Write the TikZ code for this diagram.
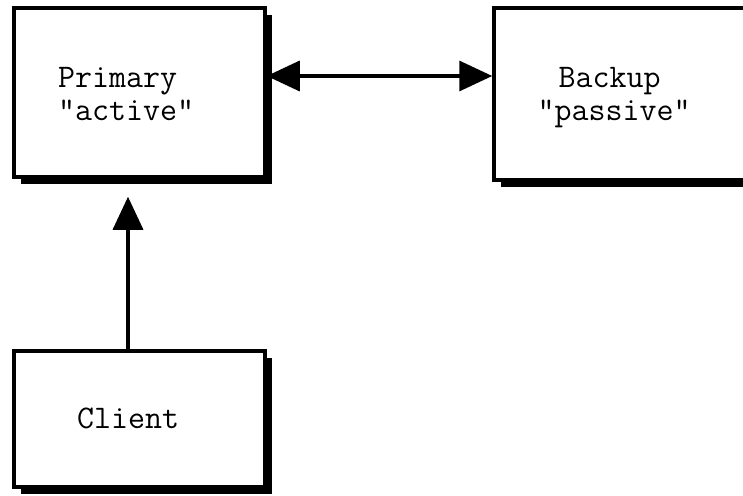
\documentclass[tikz,border=0pt]{standalone}
\usetikzlibrary{arrows.meta,shadows}
\begin{document}
\begin{tikzpicture}[x=1pt,y=-1pt,
  box/.style={draw=black, fill=white, line width=3.5pt, rectangle, inner sep=0pt,
    general shadow={shadow xshift=7pt, shadow yshift=-7pt, fill=black}},
  lbl/.style={anchor=base west, inner sep=0pt, font=\ttfamily\fontsize{33}{37}\selectfont},
  conn/.style={line width=3.5pt, draw=black}
]
\useasboundingbox (0,0) rectangle (743,495);
\clip (0,0) rectangle (743,495);
\node[box, minimum width=251pt, minimum height=169pt] (primary) at (139.5,92.5) {};
\node[box, minimum width=256pt, minimum height=172pt] (backup) at (622,94) {};
\node[box, minimum width=251pt, minimum height=136pt] (client) at (139.5,419) {};
\node[lbl] (ptext1) at (58,87) {Primary};
\node[lbl] (ptext2) at (58,120) {"active"};
\node[lbl] (btext1) at (558.5,87) {Backup};
\node[lbl] (btext2) at (537.5,120) {"passive"};
\node[lbl] (ctext) at (77,428) {Client};
\coordinate (h) at (0,76);
\coordinate (v) at (128,0);
\draw[conn, {Triangle[length=33pt,width=30pt]}-{Triangle[length=33pt,width=30pt]}] (primary.east |- h) -- (backup.west |- h);
\draw[conn, -{Triangle[length=33pt,width=30pt]}, shorten >=18pt] (client.north -| v) -- (primary.south -| v);
\end{tikzpicture}
\end{document}
